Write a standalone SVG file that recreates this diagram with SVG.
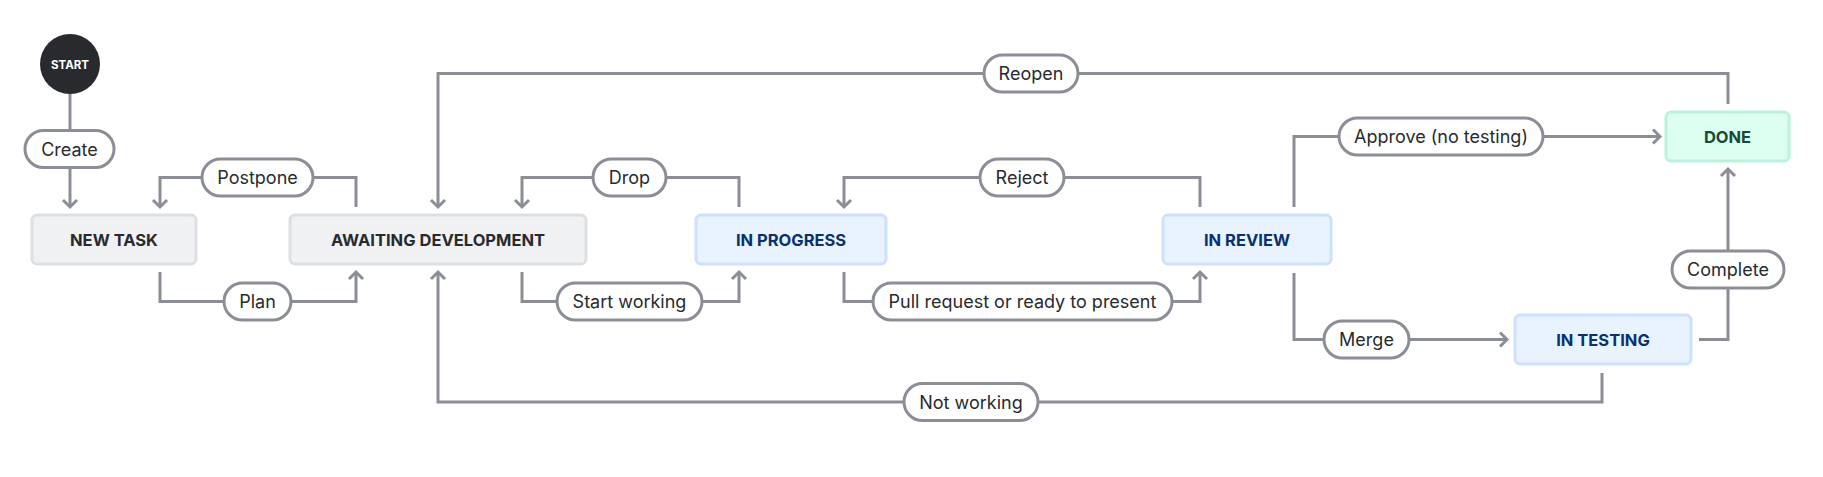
<svg xmlns="http://www.w3.org/2000/svg" width="1823" height="477" viewBox="0 0 1823 477">
<style>
.bg{fill:#ffffff}
.conn{fill:none;stroke:#8b8e96;stroke-width:3;stroke-linejoin:miter}
.pill{fill:#ffffff;stroke:#8b8e96;stroke-width:3}
.lbl{font-family:Inter,"Noto Sans",sans-serif;font-size:18px;fill:#292a2e;text-anchor:middle;dominant-baseline:central}
.ntxt{font-family:Inter,"Noto Sans",sans-serif;font-size:16.5px;font-weight:700;text-anchor:middle;dominant-baseline:central}
.gray rect{fill:#f0f1f2;stroke:#dcdfe4;stroke-width:3}
.gray text{fill:#292a2e}
.blue rect{fill:#e9f2ff;stroke:#cce0ff;stroke-width:3}
.blue text{fill:#09326c}
.green rect{fill:#dcfff1;stroke:#baf3db;stroke-width:3}
.green text{fill:#164b35}
</style>
<defs>
<marker id="arr" markerUnits="userSpaceOnUse" markerWidth="20" markerHeight="20" viewBox="-10 -10 20 20" refX="0" refY="0" orient="auto">
<path d="M-7,-7 L0,0 L-7,7" fill="none" stroke="#8b8e96" stroke-width="3"/>
</marker>
</defs>
<rect class="bg" x="0" y="0" width="1823" height="477"/>
<g id="connectors">
<path class="conn" d="M70 94 V207" marker-end="url(#arr)"/>
<path class="conn" d="M356 207 V177.5 H160 V207" marker-end="url(#arr)"/>
<path class="conn" d="M160 272 V301.5 H356 V272" marker-end="url(#arr)"/>
<path class="conn" d="M739 207 V177.5 H522 V207" marker-end="url(#arr)"/>
<path class="conn" d="M522 272 V301.5 H739 V272" marker-end="url(#arr)"/>
<path class="conn" d="M1200 207 V177.5 H844 V207" marker-end="url(#arr)"/>
<path class="conn" d="M844 272 V301.5 H1200 V272" marker-end="url(#arr)"/>
<path class="conn" d="M1294 207 V136.5 H1660" marker-end="url(#arr)"/>
<path class="conn" d="M1294 273 V339.5 H1507" marker-end="url(#arr)"/>
<path class="conn" d="M1699 339.5 H1728 V169" marker-end="url(#arr)"/>
<path class="conn" d="M1728 104 V73.5 H438 V207" marker-end="url(#arr)"/>
<path class="conn" d="M1602 373 V402 H438 V272" marker-end="url(#arr)"/>
<g id="labels">
<rect class="pill" x="25" y="130.5" width="89" height="37" rx="18.5"/>
<text class="lbl" x="69.5" y="149">Create</text>
<rect class="pill" x="202" y="159" width="111" height="37" rx="18.5"/>
<text class="lbl" x="257.5" y="177.5">Postpone</text>
<rect class="pill" x="224" y="283" width="67" height="37" rx="18.5"/>
<text class="lbl" x="257.5" y="301.5">Plan</text>
<rect class="pill" x="593" y="159" width="73" height="37" rx="18.5"/>
<text class="lbl" x="629.5" y="177.5">Drop</text>
<rect class="pill" x="557" y="283" width="145" height="37" rx="18.5"/>
<text class="lbl" x="629.5" y="301.5">Start working</text>
<rect class="pill" x="980" y="159" width="84" height="37" rx="18.5"/>
<text class="lbl" x="1022" y="177.5">Reject</text>
<rect class="pill" x="873" y="283" width="299" height="37" rx="18.5"/>
<text class="lbl" x="1022.5" y="301.5">Pull request or ready to present</text>
<rect class="pill" x="1339" y="118" width="204" height="37" rx="18.5"/>
<text class="lbl" x="1441" y="136.5">Approve (no testing)</text>
<rect class="pill" x="1324" y="321" width="85" height="37" rx="18.5"/>
<text class="lbl" x="1366.5" y="339.5">Merge</text>
<rect class="pill" x="1672" y="251" width="112" height="37" rx="18.5"/>
<text class="lbl" x="1728" y="269.5">Complete</text>
<rect class="pill" x="984" y="55" width="94" height="37" rx="18.5"/>
<text class="lbl" x="1031" y="73.5">Reopen</text>
<rect class="pill" x="904" y="383.5" width="134" height="37" rx="18.5"/>
<text class="lbl" x="971" y="402">Not working</text>
</g>
</g>
<g id="start">
<circle cx="70" cy="64" r="30" fill="#292a2e"/>
<text x="70" y="64.5" font-family="Inter,'Noto Sans',sans-serif" font-size="11.5" font-weight="700" fill="#ffffff" text-anchor="middle" dominant-baseline="central">START</text>
</g>
<g id="new-task" class="gray">
<rect x="32" y="215" width="164" height="49" rx="5"/>
<text class="ntxt" x="114" y="239.5">NEW TASK</text>
</g>
<g id="awaiting-development" class="gray">
<rect x="290" y="215" width="296" height="49" rx="5"/>
<text class="ntxt" x="438" y="239.5">AWAITING DEVELOPMENT</text>
</g>
<g id="in-progress" class="blue">
<rect x="696" y="215" width="190" height="49" rx="5"/>
<text class="ntxt" x="791" y="239.5">IN PROGRESS</text>
</g>
<g id="in-review" class="blue">
<rect x="1163" y="215" width="168" height="49" rx="5"/>
<text class="ntxt" x="1247" y="239.5">IN REVIEW</text>
</g>
<g id="done" class="green">
<rect x="1666" y="112" width="123" height="49" rx="5"/>
<text class="ntxt" x="1727.5" y="136.5">DONE</text>
</g>
<g id="in-testing" class="blue">
<rect x="1515" y="315" width="176" height="49" rx="5"/>
<text class="ntxt" x="1603" y="339.5">IN TESTING</text>
</g>
</svg>
